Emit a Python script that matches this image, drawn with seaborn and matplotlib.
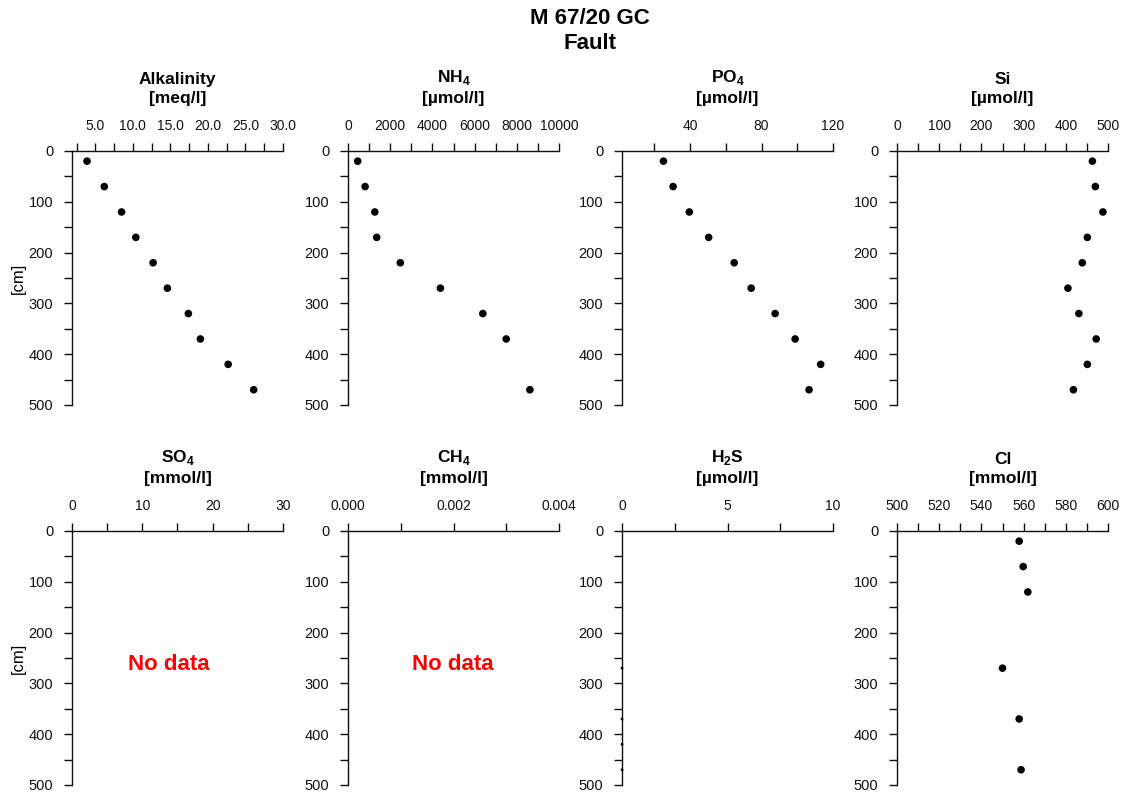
import numpy as np
import pandas as pd
import seaborn as sns
import matplotlib.pyplot as plt

# Tiefen der Proben [cm]
depth = [20, 70, 120, 170, 220, 270, 320, 370, 420, 470]
depth_nh4 = [20, 70, 120, 170, 220, 270, 320, 370, 470]
depth_h2s = [270, 370, 420, 470]
depth_cl = [20, 70, 120, 270, 370, 470]

# Messwerte
alk = [3.9, 6.2, 8.5, 10.4, 12.7, 14.6, 17.4, 19.0, 22.7, 26.1]
nh4 = [460, 810, 1270, 1360, 2480, 4380, 6390, 7500, 8620]
po4 = [25.1, 30.5, 39.6, 50.4, 64.7, 74.2, 87.6, 98.8, 113.1, 106.6]
si = [463, 470, 488, 451, 439, 405, 431, 472, 451, 418]
h2s = [0, 0, 0, 0]
cl = [557.9, 559.8, 562.0, 550.0, 557.9, 558.8]

sns.set_style("ticks")
plt.rcParams['font.family'] = ['Liberation Sans', 'DejaVu Sans']
plt.rcParams['mathtext.fontset'] = 'custom'
plt.rcParams['mathtext.rm'] = 'Liberation Sans'
plt.rcParams['mathtext.bf'] = 'Liberation Sans:bold'
plt.rcParams['text.color'] = 'black'

fig = plt.figure(figsize=(11.26, 7.96), dpi=100)
W, H = 1126, 796

def make_ax(left, top, bottom, width=211):
    return fig.add_axes([left / W, 1 - bottom / H, width / W, (bottom - top) / H])

# (Titel, Einheit, Daten, Tiefe, xlim, Tickabstand, Labelabstand, Format, Punktgröße, "No data"-x)
panels = [
    ("Alkalinity", "[meq/l]", alk, depth, (1.9, 30), 2.5, 5, "{:.1f}", 30, None),
    (r"NH$_\mathbf{4}$", "[µmol/l]", nh4, depth_nh4, (0, 10000), 1000, 2000, "{:.0f}", 30, None),
    (r"PO$_\mathbf{4}$", "[µmol/l]", po4, depth, (1.9, 120), 20, 40, "{:.0f}", 30, None),
    ("Si", "[µmol/l]", si, depth, (0, 500), 50, 100, "{:.0f}", 30, None),
    (r"SO$_\mathbf{4}$", "[mmol/l]", None, None, (0, 30), 5, 10, "{:.0f}", 30, 0.46),
    (r"CH$_\mathbf{4}$", "[mmol/l]", None, None, (0, 0.004), 0.001, 0.002, "{:.3f}", 30, 0.495),
    (r"H$_\mathbf{2}$S", "[µmol/l]", h2s, depth_h2s, (0, 10), 2.5, 5, "{:.0f}", 4, None),
    ("Cl", "[mmol/l]", cl, depth_cl, (500, 600), 10, 20, "{:.0f}", 30, None),
]

lefts = [72, 348, 622, 897]
rows = [(151, 405), (531, 785)]

for i, (name, unit, vals, dep, xlim, step, lstep, fmt, size, nodata_x) in enumerate(panels):
    top, bottom = rows[i // 4]
    ax = make_ax(lefts[i % 4], top, bottom)
    if vals is not None:
        df = pd.DataFrame({"wert": vals, "tiefe": dep})
        sns.scatterplot(data=df, x="wert", y="tiefe", ax=ax, color="black",
                        s=size, edgecolor="none", clip_on=False, zorder=3)
    ax.set_xlim(*xlim)
    ax.set_ylim(500, 0)

    # x-Achse oben
    ax.xaxis.tick_top()
    first = np.ceil(xlim[0] / step - 1e-9) * step + 0.0
    xt = np.arange(first, xlim[1] + step / 2, step) + 0.0
    ax.set_xticks(xt)
    ax.set_xticklabels([fmt.format(abs(t) if abs(t) < 1e-12 else t)
                        if abs(t / lstep - round(t / lstep)) < 1e-6 else "" for t in xt])
    yt = np.arange(0, 501, 50)
    ax.set_yticks(yt)
    ax.set_yticklabels([str(t) if t % 100 == 0 else "" for t in yt])

    for s in ["bottom", "right"]:
        ax.spines[s].set_visible(False)
    for s in ["top", "left"]:
        ax.spines[s].set_color("#111111")
        ax.spines[s].set_linewidth(1.0)
    ax.tick_params(axis="x", direction="out", length=6, width=1, pad=7,
                   labelsize=10, colors="#111111")
    ax.tick_params(axis="y", direction="out", length=5.5, width=1, pad=8,
                   labelsize=10.5, colors="#111111")
    ax.set_xlabel("")
    ax.set_ylabel("")

    ax.text(0.5, 1.178, name + "\n" + unit, transform=ax.transAxes, ha="center",
            va="bottom", fontsize=12.5, fontweight="bold", linespacing=1.3,
            color="black")

    if i % 4 == 0:
        ax.set_ylabel("[cm]", fontsize=12, labelpad=2, color="black")

    if nodata_x is not None:
        ax.text(nodata_x, 0.475, "No data", transform=ax.transAxes, ha="center",
                va="center", color="red", fontsize=16, fontweight="bold")

fig.text(590 / W, 1 - 31 / H, "M 67/20 GC\nFault", ha="center", va="center",
         fontsize=16, fontweight="bold", linespacing=1.2, color="black")

fig.savefig("out.png", dpi=100)
